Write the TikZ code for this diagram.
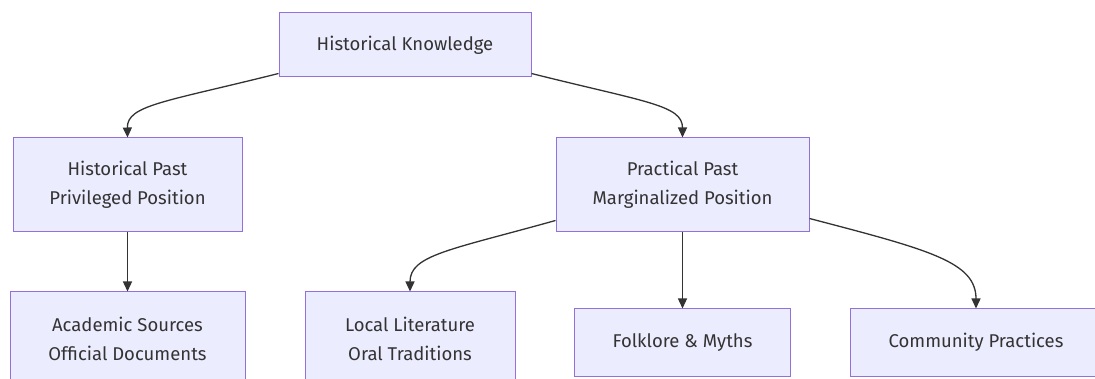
\documentclass[tikz,border=0pt]{standalone}
\usepackage{fontspec}
\setmainfont{Fira Sans}
\usetikzlibrary{arrows.meta}
\definecolor{boxfill}{HTML}{ECECFF}
\definecolor{boxline}{HTML}{9370DB}
\definecolor{txt}{HTML}{333333}
\definecolor{edge}{HTML}{333333}
\tikzset{
  box/.style={draw=boxline, fill=boxfill, line width=1pt, inner sep=0pt,
    align=center, text=txt, font=\fontsize{18.5}{29}\selectfont},
  link/.style={draw=edge, line width=1.3pt, -{Triangle[length=10pt,width=9pt]}}
}
\begin{document}
\begin{tikzpicture}[x=1pt,y=-1pt]
\useasboundingbox (0,0) rectangle (1095,379);
\node[box, minimum width=252pt, minimum height=64pt] (hk) at (405,45) {Historical Knowledge};
\node[box, minimum width=229pt, minimum height=94pt] (hp) at (127.5,185) {Historical Past\\Privileged Position};
\node[box, minimum width=253pt, minimum height=94pt] (pp) at (682.5,185) {Practical Past\\Marginalized Position};
\node[box, minimum width=235pt, minimum height=94pt] (as) at (127.5,339) {Academic Sources\\Official Documents};
\node[box, minimum width=210pt, minimum height=94pt] (ll) at (410,339) {Local Literature\\Oral Traditions};
\node[box, minimum width=216pt, minimum height=67pt] (fm) at (682.5,342.5) {Folklore \& Myths};
\node[box, minimum width=252pt, minimum height=67pt] (cp) at (976,342.5) {Community Practices};

\draw[link] ([yshift=4pt]hk.south west) .. controls (165,102) and (127,105) .. (hp.north);
\draw[link] ([yshift=4pt]hk.south east) .. controls (645,102) and (682.5,105) .. (pp.north);
\draw[link] (hp.south) -- (as.north);
\draw[link] ([yshift=12pt]pp.south west) .. controls (450,250) and (410,255) .. (ll.north);
\draw[link] (pp.south) -- (fm.north);
\draw[link] ([yshift=14pt]pp.south east) .. controls (930,250) and (976,262) .. (cp.north);
\end{tikzpicture}
\end{document}
